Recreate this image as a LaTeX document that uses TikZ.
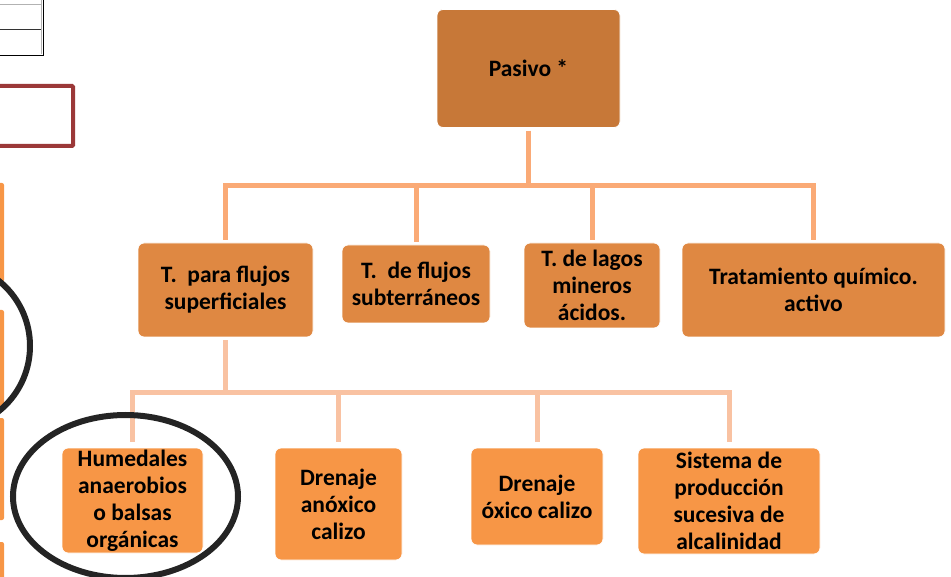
\documentclass[tikz,border=0pt]{standalone}
\usepackage{fontspec}
\setmainfont{Carlito}
\usepackage{xcolor}
\usepackage{tikz}

\definecolor{pasivocol}{RGB}{199,120,56}
\definecolor{midcol}{RGB}{223,136,66}
\definecolor{lowcol}{RGB}{247,150,70}
\definecolor{linkonecol}{RGB}{250,170,118}
\definecolor{linktwocol}{RGB}{249,194,162}
\definecolor{framecol}{RGB}{155,56,56}
\definecolor{ringcol}{RGB}{36,36,36}

\tikzset{
    box/.style={rounded corners=6pt, draw=white, line width=0.8pt, align=center,
        inner sep=0pt, font=\bfseries\fontsize{23.5}{27}\selectfont},
    topbox/.style={box, fill=pasivocol},
    midbox/.style={box, fill=midcol},
    lowbox/.style={box, fill=lowcol},
    linkone/.style={draw=linkonecol, line width=5pt, shorten <=3pt, shorten >=3pt},
    linktwo/.style={draw=linktwocol, line width=5pt, shorten <=3pt, shorten >=6pt}
}

\begin{document}
\begin{tikzpicture}[x=1pt,y=-1pt]
        \useasboundingbox (0,0) rectangle (951,577);
        \clip (0,0) rectangle (951,577);

        \draw[gray!60, line width=1pt] (-5,5) -- (41,5);
        \draw[black!80, line width=0.8pt] (-5,29) -- (41,29);
        \draw[gray!60, line width=1pt] (41,0) -- (41,54);
        \draw[black, line width=1.5pt] (-5,55.5) -- (43.5,55.5) -- (43.5,-5);
        \draw[framecol, line width=4pt, rounded corners=1pt] (-10,86) rectangle (73,146);

        \fill[lowcol, rounded corners=2pt] (-10,183) rectangle (4,282);
        \fill[lowcol, rounded corners=2pt] (-10,310) rectangle (4,406);
        \fill[lowcol, rounded corners=2pt] (-10,418) rectangle (4,520);
        \fill[lowcol, rounded corners=2pt] (-10,542) rectangle (4,590);
        \draw[ringcol, line width=6pt] (-52,346) ellipse [x radius=82pt, y radius=83pt];

        \node[topbox, minimum width=183pt, minimum height=118pt] (pasivo) at (528.5,68.5) {Pasivo *};

        \node[midbox, minimum width=175pt, minimum height=94pt] (sup)   at (225.5,290) {T.~ para flujos\\superficiales};
        \node[midbox, minimum width=148pt, minimum height=78pt] (sub)   at (416,284)   {T.~ de flujos\\subterráneos};
        \node[midbox, minimum width=136pt, minimum height=85pt] (lagos) at (592,285.5) {T. de lagos\\mineros\\ácidos.};
        \node[midbox, minimum width=263pt, minimum height=94pt] (quim)  at (813.5,290) {Tratamiento químico.\\activo};

        \node[lowbox, minimum width=141pt, minimum height=105pt] (hum)  at (132.5,500.5) {Humedales\\anaerobios\\o balsas\\orgánicas};
        \node[lowbox, minimum width=127pt, minimum height=112pt] (anox) at (338.5,504)   {Drenaje\\anóxico\\calizo};
        \node[lowbox, minimum width=132pt, minimum height=97pt]  (oxic) at (537,496.5)   {Drenaje\\óxico calizo};
        \node[lowbox, minimum width=182pt, minimum height=106pt] (alc)  at (729,501)     {Sistema de\\producción\\sucesiva de\\alcalinidad};

        \draw[linkone] (pasivo.south) -- ++(0,57.5) -| (sup.north);
        \draw[linkone] (pasivo.south) -- ++(0,57.5) -| (sub.north);
        \draw[linkone] (pasivo.south) -- ++(0,57.5) -| (lagos.north);
        \draw[linkone] (pasivo.south) -- ++(0,57.5) -| (quim.north);

        \draw[linktwo] (sup.south) -- ++(0,55) -| (hum.north);
        \draw[linktwo] (sup.south) -- ++(0,55) -| (anox.north);
        \draw[linktwo] (sup.south) -- ++(0,55) -| (oxic.north);
        \draw[linktwo] (sup.south) -- ++(0,55) -| (alc.north);

        \draw[ringcol, line width=6pt] (125.5,496.5) ellipse [x radius=112.5pt, y radius=81.5pt];
    \end{tikzpicture}
\end{document}
